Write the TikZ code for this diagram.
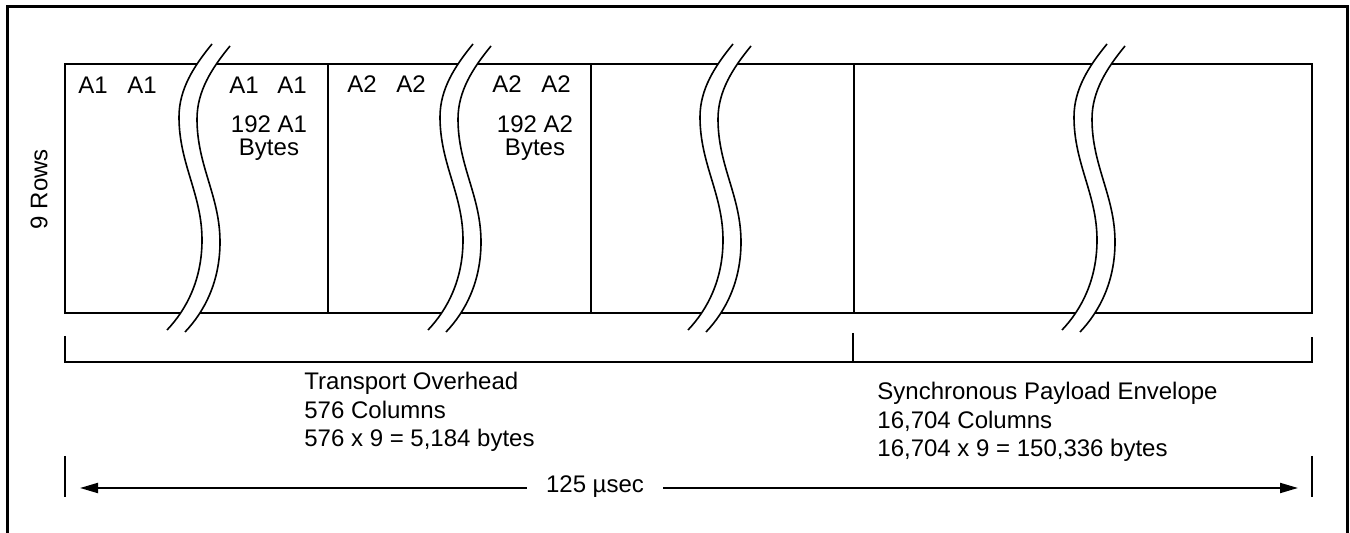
\documentclass[tikz,border=0pt]{standalone}
\usepackage{fontspec}
\setmainfont{Liberation Sans}
\usetikzlibrary{arrows.meta}

\tikzset{
  lbl/.style={font=\fontsize{12}{14.35}\selectfont, inner sep=0pt},
  blk/.style={font=\fontsize{12}{11.5}\selectfont, inner sep=0pt, align=center},
  brk/.style={line width=0.8pt},
  box/.style={line width=1pt},
}

\begin{document}
\begin{tikzpicture}[x=0.5pt,y=-0.5pt]
  \useasboundingbox (0,0) rectangle (1350,533);
  % Outer frame, open at the bottom
  \draw[line width=1.5pt] (7,533) -- (7,7) -- (1347,7) -- (1347,533);
  % Frame rows
  \coordinate (frTL) at (65,64);
  \coordinate (frBR) at (1312,313);
  \draw[box] (frTL) rectangle (frBR);
  \foreach \x in {328,591,854}
    \draw[box] (\x,64) -- (\x,313);
  % Break marks
  \foreach \bx in {212,473,733,1107} {
    \begin{scope}[shift={(\bx,44)}]
      \fill[white] (0,0) .. controls (-18,22) and (-33,45) .. (-33,73)
        .. controls (-33,120) and (-10,150) .. (-10,196)
        .. controls (-10,235) and (-25,265) .. (-45,286)
        -- (-27,288) .. controls (-7,267) and (8,237) .. (8,198)
        .. controls (8,152) and (-15,122) .. (-15,75)
        .. controls (-15,47) and (0,24) .. (18,2) -- cycle;
      \draw[brk] (0,0) .. controls (-18,22) and (-33,45) .. (-33,73)
        .. controls (-33,120) and (-10,150) .. (-10,196)
        .. controls (-10,235) and (-25,265) .. (-45,286);
      \draw[brk] (18,2) .. controls (0,24) and (-15,47) .. (-15,75)
        .. controls (-15,122) and (8,152) .. (8,198)
        .. controls (8,237) and (-7,267) .. (-27,288);
    \end{scope}
  }
  % Byte labels
  \node[lbl, anchor=base] (a1p) at (93,94) {A1};
  \node[lbl, anchor=base] (a1q) at (142,94) {A1};
  \node[lbl, anchor=base] (a1r) at (244,94) {A1};
  \node[lbl, anchor=base] (a1s) at (292,94) {A1};
  \node[lbl, anchor=base] (a2p) at (362,93) {A2};
  \node[lbl, anchor=base] (a2q) at (411,93) {A2};
  \node[lbl, anchor=base] (a2r) at (507,93) {A2};
  \node[lbl, anchor=base] (a2s) at (556,93) {A2};
  \node[blk, anchor=base] (a1n) at (269,156) {192 A1\\Bytes};
  \node[blk, anchor=base] (a2n) at (535,156) {192 A2\\Bytes};
  \node[lbl, rotate=90] (rows) at (39,189) {9 Rows};
  % Bracket
  \coordinate (brL) at (65,362);
  \coordinate (brM) at (853,362);
  \coordinate (brR) at (1312,362);
  \draw[box] (65,336) -- (brL) -- (brR) -- (1312,337);
  \draw[box] (853,333) -- (brM);
  \node[lbl, anchor=base west, align=left] (toh) at (304,447)
    {Transport Overhead\\576 Columns\\576 x 9 = 5,184 bytes};
  \node[lbl, anchor=base west, align=left] (spe) at (877,457)
    {Synchronous Payload Envelope\\16,704 Columns\\16,704 x 9 = 150,336 bytes};
  % Frame period
  \coordinate (tipL) at (80,488);
  \coordinate (tipR) at (1298,488);
  \draw[box] (65,456) -- (65,497);
  \draw[box] (1312,456) -- (1312,497);
  \node[lbl, anchor=base, inner xsep=9.5pt] (usec) at (595,493) {125 µsec};
  \draw[box, -{Triangle[length=9pt,width=5pt]}] (usec.west |- tipL) -- (tipL);
  \draw[box, -{Triangle[length=9pt,width=5pt]}] (usec.east |- tipR) -- (tipR);
\end{tikzpicture}
\end{document}
